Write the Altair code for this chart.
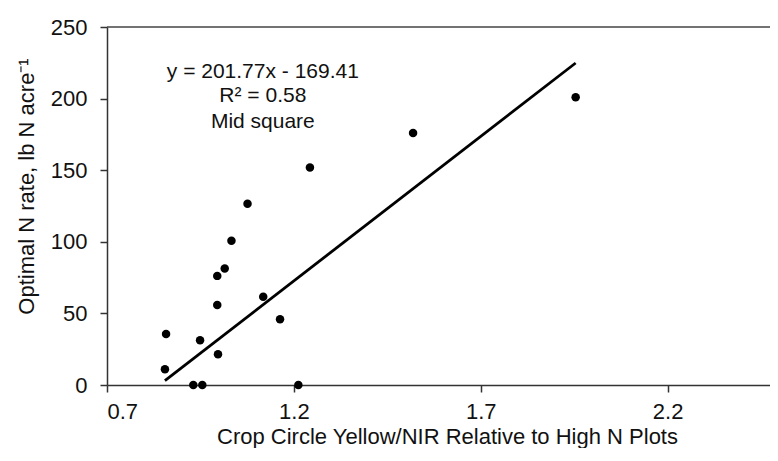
import altair as alt
import pandas as pd

# Data
x_vals = [0.855, 0.858, 0.931, 0.955, 0.949, 0.995, 0.997, 0.995, 1.015, 1.033,
          1.076, 1.118, 1.163, 1.212, 1.243, 1.519, 1.954]
y_vals = [11, 35.6, 0, 0, 31.2, 55.9, 21.4, 76.2, 81.3, 100.8,
          126.5, 61.7, 45.9, 0, 151.9, 175.9, 201]
slope = 201.77
intercept = -169.41
x_ticks = [0.7, 1.2, 1.7, 2.2]
y_ticks = [0, 50, 100, 150, 200, 250]
annot_lines = ["y = 201.77x - 169.41", "R² = 0.58", "Mid square"]
annot_y = [214.6, 197.6, 179.5]
annot_x = 1.117
x_domain = [0.7, 2.474]
y_domain = [0, 250]

FONT = "Liberation Sans"
W, H = 663, 358

pts_df = pd.DataFrame({"x": x_vals, "y": y_vals})
line_x = [min(x_vals), max(x_vals)]
line_df = pd.DataFrame({"x": line_x, "y": [slope * v + intercept for v in line_x]})
annot_df = pd.DataFrame({"x": [annot_x] * 3, "y": annot_y, "t": annot_lines})
top_df = pd.DataFrame({"y": [y_domain[1]]})

xscale = alt.Scale(domain=x_domain, nice=False, zero=False)
yscale = alt.Scale(domain=y_domain, nice=False)

xaxis = alt.Axis(values=x_ticks, format=".1f", grid=False,
                 title="Crop Circle Yellow/NIR Relative to High N Plots",
                 tickSize=7, labelPadding=9,
                 titleX=340, titleY=58.5, titleAlign="center", titleBaseline="alphabetic")
yaxis = alt.Axis(values=y_ticks, grid=False,
                 title="Optimal N rate, lb N acre⁻¹",
                 tickSize=7, labelPadding=13,
                 titleX=-81, titleY=159, titleAngle=270, titleAlign="center",
                 titleBaseline="middle")

points = alt.Chart(pts_df).mark_circle(size=72, color="black", opacity=1).encode(
    x=alt.X("x:Q", scale=xscale, axis=xaxis),
    y=alt.Y("y:Q", scale=yscale, axis=yaxis),
)

trend = alt.Chart(line_df).mark_line(color="black", strokeWidth=2.8).encode(
    x=alt.X("x:Q", scale=xscale),
    y=alt.Y("y:Q", scale=yscale),
)

top_rule = alt.Chart(top_df).mark_rule(color="#444", strokeWidth=1.5).encode(
    y=alt.Y("y:Q", scale=yscale),
    x=alt.value(0),
    x2=alt.value(W),
)

annot = alt.Chart(annot_df).mark_text(font=FONT, fontSize=21, align="center",
                                      baseline="alphabetic", color="#111").encode(
    x=alt.X("x:Q", scale=xscale),
    y=alt.Y("y:Q", scale=yscale),
    text="t:N",
)

chart = alt.layer(top_rule, trend, points, annot).properties(
    width=W, height=H, autosize="none",
    padding={"left": 99, "top": 19, "right": 0, "bottom": 63},
).configure_view(strokeWidth=0).configure_axis(
    domainColor="#333", domainWidth=1.5, tickColor="#333", tickWidth=1.5,
    labelFont=FONT, labelFontSize=22, labelColor="#111",
    titleFont=FONT, titleFontSize=22, titleColor="#111", titleFontWeight="normal",
)

chart.save("out.html", embed_options={"renderer": "svg", "actions": False})
